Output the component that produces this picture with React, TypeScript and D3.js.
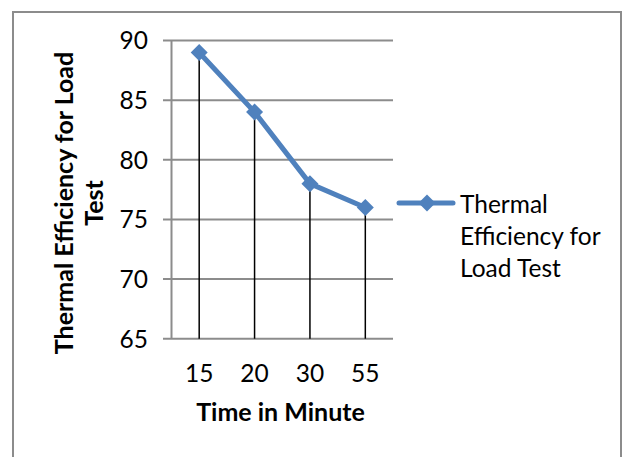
import { useEffect } from 'react';
import * as d3 from 'd3';

// Data
const categories = ['15', '20', '30', '55'];
const efficiency = [89, 84, 78, 76];
const yTicks = [65, 70, 75, 80, 85, 90];
const seriesName = ['Thermal', 'Efficiency for', 'Load Test'];
const yTitle = ['Thermal Efficiency for Load', 'Test'];
const xTitle = 'Time in Minute';

const W = 627;
const H = 457;
const FONT = 'Lato, "Open Sans", sans-serif';
const BLUE = '#4F81BD';
const GRID = '#8C8C8C';

export default function App() {
    useEffect(() => {
        document.body.style.margin = '0';
    }, []);

    const plot = { left: 171.5, right: 393, top: 40.5, bottom: 338.7 };

    const x = d3.scaleBand<string>().domain(categories).range([plot.left, plot.right]);
    const y = d3.scaleLinear().domain([65, 90]).range([plot.bottom, plot.top]);
    const cx = (c: string) => (x(c) ?? 0) + x.bandwidth() / 2;

    const points = categories.map((c, i) => ({ c, v: efficiency[i] }));
    const line = d3
        .line<{ c: string; v: number }>()
        .x((d) => cx(d.c))
        .y((d) => y(d.v));

    const diamond = (px: number, py: number, r = 8.5) =>
        `M${px},${py - r}L${px + r},${py}L${px},${py + r}L${px - r},${py}Z`;

    const titleCy = 203;
    const legendY = 203;
    const tickSize = 24.5;
    const titleSize = 25;

    return (
        <svg width={W} height={H} style={{ display: 'block', background: '#fff' }}>
            {/* outer frame */}
            <rect x={13} y={12} width={608} height={H} fill="#fff" stroke={GRID} strokeWidth={2} />

            {/* gridlines */}
            {yTicks.map((t) => (
                <line key={t} x1={163} x2={plot.right} y1={y(t)} y2={y(t)} stroke={GRID} strokeWidth={2} />
            ))}
            {/* y axis line */}
            <line x1={plot.left} x2={plot.left} y1={plot.top} y2={plot.bottom} stroke={GRID} strokeWidth={2} />

            {/* y tick labels */}
            {yTicks.map((t) => (
                <text key={t} x={148} y={y(t)} dy="0.36em" textAnchor="end" fontFamily={FONT} fontSize={tickSize} fill="#000">
                    {t}
                </text>
            ))}

            {/* x tick labels */}
            {categories.map((c) => (
                <text key={c} x={cx(c)} y={382} textAnchor="middle" fontFamily={FONT} fontSize={tickSize} fill="#000">
                    {c}
                </text>
            ))}

            {/* drop lines */}
            {points.map((p) => (
                <line key={p.c} x1={cx(p.c)} x2={cx(p.c)} y1={y(p.v)} y2={plot.bottom} stroke="#000" strokeWidth={1.5} />
            ))}

            {/* series line */}
            <path d={line(points) ?? ''} fill="none" stroke={BLUE} strokeWidth={5} strokeLinejoin="round" />
            {points.map((p) => (
                <path key={p.c} d={diamond(cx(p.c), y(p.v))} fill={BLUE} />
            ))}

            {/* axis titles */}
            <text
                transform={`translate(73,${titleCy}) rotate(-90)`}
                textAnchor="middle"
                fontFamily={FONT}
                fontWeight="bold"
                fontSize={titleSize}
                fill="#000"
            >
                {yTitle[0]}
            </text>
            <text
                transform={`translate(103,${titleCy}) rotate(-90)`}
                textAnchor="middle"
                fontFamily={FONT}
                fontWeight="bold"
                fontSize={titleSize}
                fill="#000"
            >
                {yTitle[1]}
            </text>
            <text x={280.5} y={421} textAnchor="middle" fontFamily={FONT} fontWeight="bold" fontSize={titleSize} fill="#000">
                {xTitle}
            </text>

            {/* legend */}
            <line x1={399} x2={453} y1={legendY} y2={legendY} stroke={BLUE} strokeWidth={5} strokeLinecap="round" />
            <path d={diamond(427, legendY)} fill={BLUE} />
            {seriesName.map((s, i) => (
                <text key={s} x={460} y={213 + i * 32} fontFamily={FONT} fontSize={tickSize} fill="#000">
                    {s}
                </text>
            ))}
        </svg>
    );
}
